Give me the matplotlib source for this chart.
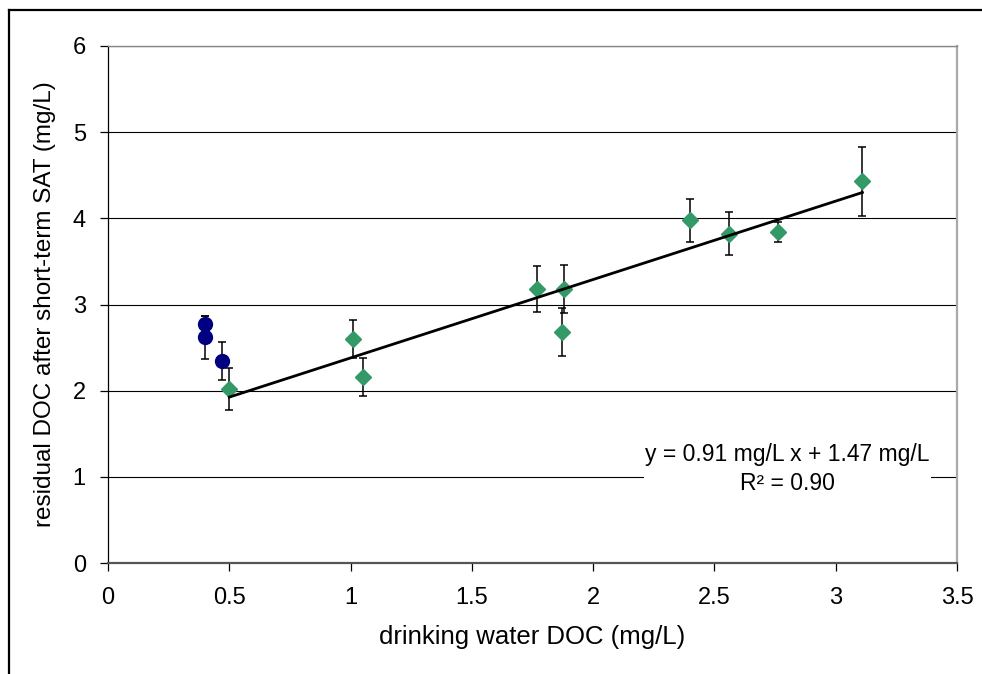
import numpy as np
import matplotlib.pyplot as plt
from matplotlib.lines import Line2D

plt.rcParams['font.family'] = ['Liberation Sans', 'DejaVu Sans']

# dados lidos do gráfico
# pontos azuis (círculos)
x_azul = [0.401, 0.401, 0.471]
y_azul = [2.77, 2.62, 2.34]
err_azul = [0.10, 0.25, 0.22]

# pontos verdes (losangos)
x_verde = [0.50, 1.011, 1.051, 1.770, 1.880, 1.872, 2.40, 2.56, 2.762, 3.110]
y_verde = [2.02, 2.60, 2.16, 3.18, 3.18, 2.68, 3.98, 3.82, 3.84, 4.43]
err_verde = [0.24, 0.22, 0.22, 0.27, 0.28, 0.28, 0.25, 0.25, 0.12, 0.40]

# linha de tendência
inclinacao = 0.91
intercepto = 1.47
r2 = 0.90

fig = plt.figure(figsize=(9.82, 6.74), dpi=100)
ax = fig.add_axes([108/982, 1 - 563/674, (957 - 108)/982, (563 - 46)/674])

# moldura externa (só esquerda e topo visíveis)
fig.add_artist(Line2D([9/982, 9/982], [0, 1 - 10/674], color='black', lw=1.6, transform=fig.transFigure))
fig.add_artist(Line2D([9/982, 1], [1 - 10/674, 1 - 10/674], color='black', lw=1.6, transform=fig.transFigure))

# barras de erro
ax.errorbar(x_azul, y_azul, yerr=err_azul, fmt='none', ecolor='black',
            elinewidth=1.1, capsize=3, capthick=1.1, zorder=3)
ax.errorbar(x_verde, y_verde, yerr=err_verde, fmt='none', ecolor='black',
            elinewidth=1.1, capsize=3, capthick=1.1, zorder=3)

# marcadores
ax.plot(x_azul, y_azul, 'o', color='#000080', markersize=10, zorder=4)
ax.plot(x_verde, y_verde, 'D', color='#339966', markersize=8, zorder=4)

# tendência
xt = np.array([min(x_verde), max(x_verde)])
ax.plot(xt, inclinacao * xt + intercepto, color='black', lw=2, zorder=5)

ax.text(2.80, 1.09, f"y = {inclinacao:.2f} mg/L x + {intercepto:.2f} mg/L\nR² = {r2:.2f}",
        ha='center', va='center', fontsize=16.5, linespacing=1.35, zorder=2,
        bbox=dict(facecolor='white', edgecolor='none', pad=1))

ax.set_xlim(0, 3.5)
ax.set_ylim(0, 6)
ax.set_xticks(np.arange(0, 3.51, 0.5))
ax.set_xticklabels(['0', '0.5', '1', '1.5', '2', '2.5', '3', '3.5'])
ax.set_yticks(range(0, 7))
ax.yaxis.grid(True, color='black', lw=0.8, zorder=1)
ax.set_axisbelow(True)

ax.spines['left'].set_color('black')
ax.spines['left'].set_linewidth(0.9)
ax.spines['bottom'].set_color('#555555')
ax.spines['bottom'].set_linewidth(1.6)
ax.spines['top'].set_color('#888888')
ax.spines['top'].set_linewidth(1.0)
ax.spines['right'].set_color('#aaaaaa')
ax.spines['right'].set_linewidth(1.6)

ax.tick_params(axis='both', direction='out', length=6, width=0.9, labelsize=17, color='black')
ax.tick_params(axis='x', pad=11)
ax.tick_params(axis='y', pad=10)

ax.set_xlabel("drinking water DOC (mg/L)", fontsize=18.5, labelpad=12)
ax.set_ylabel("residual DOC after short-term SAT (mg/L)", fontsize=17.5, labelpad=12)

fig.savefig("out.png", dpi=100)
